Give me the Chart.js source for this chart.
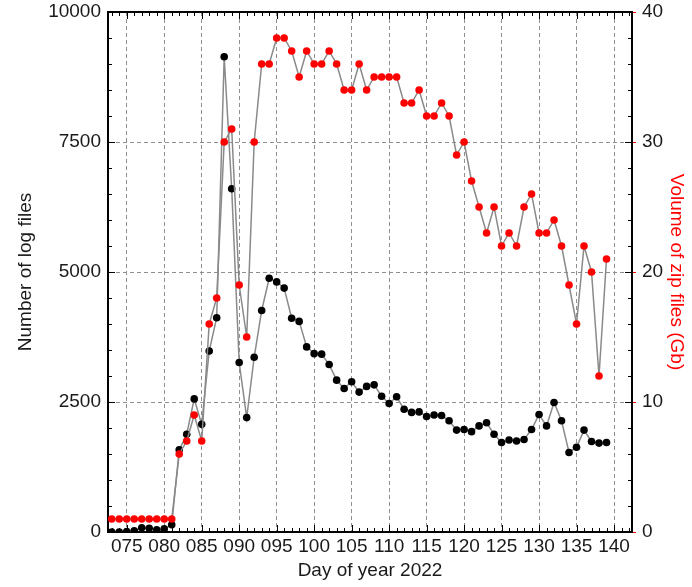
<!DOCTYPE html>
<html>
<head>
<meta charset="utf-8">
<script src="https://cdn.jsdelivr.net/npm/chart.js@4.4.1/dist/chart.umd.min.js"></script>
<style>
  html, body { margin: 0; padding: 0; background: #fff; }
</style>
</head>
<body>
<canvas id="chart" width="692" height="587"></canvas>
<script>
// Day of year (2022) for each sample
const days = [
    73, 74, 75, 76, 77, 78, 79, 80, 81, 82, 83, 84, 85, 86, 87, 88, 89, 90,
    91, 92, 93, 94, 95, 96, 97, 98, 99, 100, 101, 102, 103, 104, 105, 106,
    107, 108, 109, 110, 111, 112, 113, 114, 115, 116, 117, 118, 119, 120,
    121, 122, 123, 124, 125, 126, 127, 128, 129, 130, 131, 132, 133, 134,
    135, 136, 137, 138, 139
];

// Number of log files (left axis)
const logFiles = [
    0, 0, 10, 25, 80, 70, 40, 60, 140, 1580, 1880, 2560, 2070, 3480, 4120, 9140, 6600, 3260,
    2200, 3360, 4260, 4880, 4810, 4690, 4110, 4050, 3560, 3430, 3420, 3220, 2920, 2760, 2890, 2690,
    2800, 2830, 2610, 2470, 2600, 2360, 2300, 2310, 2220, 2250, 2240, 2140, 1960, 1970,
    1930, 2040, 2100, 1880, 1720, 1770, 1750, 1780, 1970, 2260, 2040, 2490, 2140, 1530,
    1630, 1960, 1740, 1710, 1720
];

// Volume of zip files in Gb (right axis)
const zipVolume = [
    1, 1, 1, 1, 1, 1, 1, 1, 1, 6, 7, 9, 7, 16, 18, 30, 31, 19,
    15, 30, 36, 36, 38, 38, 37, 35, 37, 36, 36, 37, 36, 34, 34, 36,
    34, 35, 35, 35, 35, 33, 33, 34, 32, 32, 33, 32, 29, 30,
    27, 25, 23, 25, 22, 23, 22, 25, 26, 23, 23, 24, 22, 19,
    16, 22, 20, 12, 21
];

// Tick labels
const dayTicks = [75, 80, 85, 90, 95, 100, 105, 110, 115, 120, 125, 130, 135, 140];
const logTicks = [0, 2500, 5000, 7500, 10000];
const zipTicks = [0, 10, 20, 30, 40];

const FONT = { family: "'Liberation Sans', Arial, sans-serif", size: 19 };
const TEXT = '#1a1a1a';
const GRID = '#8f8f8f';

// small inward ticks on all four sides, like the gnuplot frame
const innerTicks = {
    id: 'innerTicks',
    afterDraw(chart) {
        const { ctx, chartArea: a, scales } = chart;
        ctx.save();
        ctx.strokeStyle = '#000';
        ctx.lineWidth = 1;
        ctx.beginPath();
        for (let d = 73; d <= 142; d++) {
            const px = Math.round(scales.x.getPixelForValue(d)) + 0.5;
            const len = d % 5 === 0 ? 7 : 4;
            ctx.moveTo(px, a.bottom); ctx.lineTo(px, a.bottom - len);
            ctx.moveTo(px, a.top); ctx.lineTo(px, a.top + len);
        }
        for (let v = 0; v <= 10000; v += 500) {
            const py = Math.round(scales.y.getPixelForValue(v)) + 0.5;
            const len = v % 2500 === 0 ? 7 : 4;
            ctx.moveTo(a.left, py); ctx.lineTo(a.left + len, py);
        }
        for (let v = 0; v <= 40; v += 2) {
            const py = Math.round(scales.y2.getPixelForValue(v)) + 0.5;
            const len = v % 10 === 0 ? 7 : 4;
            ctx.moveTo(a.right, py); ctx.lineTo(a.right - len, py);
        }
        ctx.stroke();
        ctx.restore();
    }
};

const toPoints = (vals) => days.map((d, i) => ({ x: d, y: vals[i] }));

// fixed box sizes so the plot area sits where it does in the original
const fixWidth = (w) => (s) => { s.width = w; s.paddingTop = 0; s.paddingBottom = 0; };
const fixHeight = (h) => (s) => { s.height = h; s.paddingLeft = 0; s.paddingRight = 0; };

new Chart(document.getElementById('chart'), {
    type: 'line',
    data: {
        datasets: [
            {
                label: 'Volume of zip files (Gb)',
                data: toPoints(zipVolume),
                yAxisID: 'y2',
                borderColor: '#8a8a8a',
                borderWidth: 1.5,
                pointBackgroundColor: '#ff0000',
                pointBorderWidth: 0,
                pointRadius: 3.8,
                tension: 0
            },
            {
                label: 'Number of log files',
                data: toPoints(logFiles),
                yAxisID: 'y',
                borderColor: '#8a8a8a',
                borderWidth: 1.5,
                pointBackgroundColor: '#000000',
                pointBorderWidth: 0,
                pointRadius: 3.8,
                tension: 0
            }
        ]
    },
    options: {
        responsive: false,
        animation: false,
        layout: { padding: { top: 12, left: 0, right: 0, bottom: 0 } },
        plugins: { legend: { display: false }, tooltip: { enabled: false } },
        scales: {
            x: {
                type: 'linear',
                position: 'bottom',
                min: 72.5,
                max: 142.4,
                afterBuildTicks: (s) => { s.ticks = dayTicks.map(v => ({ value: v })); },
                afterFit: fixHeight(55),
                ticks: {
                    font: FONT, color: TEXT, padding: 3, maxRotation: 0, autoSkip: false,
                    callback: (v) => String(v).padStart(3, '0')
                },
                grid: { color: GRID, drawTicks: false },
                border: { display: true, color: '#000', width: 2, dash: [4, 3] },
                title: {
                    display: true, text: 'Day of year 2022', font: FONT, color: TEXT,
                    padding: { top: 0, bottom: 5 }
                }
            },
            xTop: {
                type: 'linear',
                position: 'top',
                min: 72.5,
                max: 142.4,
                afterFit: fixHeight(0),
                ticks: { display: false },
                grid: { drawOnChartArea: false, drawTicks: false },
                border: { display: true, color: '#000', width: 2 }
            },
            y: {
                position: 'left',
                min: 0,
                max: 10000,
                afterBuildTicks: (s) => { s.ticks = logTicks.map(v => ({ value: v })); },
                afterFit: fixWidth(108),
                ticks: { font: FONT, color: TEXT, padding: 7, callback: (v) => String(v) },
                grid: { color: GRID, drawTicks: false },
                border: { display: true, color: '#000', width: 2, dash: [4, 3] },
                title: {
                    display: true, text: 'Number of log files', font: FONT, color: TEXT,
                    padding: { top: 14, bottom: 0 }
                }
            },
            y2: {
                position: 'right',
                min: 0,
                max: 40,
                afterBuildTicks: (s) => { s.ticks = zipTicks.map(v => ({ value: v })); },
                afterFit: fixWidth(60),
                ticks: { font: FONT, color: TEXT, padding: 6, callback: (v) => String(v) },
                grid: { drawOnChartArea: false, tickLength: 4, tickColor: '#ff0000' },
                border: { display: true, color: '#000', width: 2 },
                title: {
                    display: true, text: 'Volume of zip files (Gb)', font: FONT, color: '#ff0000',
                    padding: { top: 4, bottom: 0 }
                }
            }
        }
    },
    plugins: [innerTicks]
});
</script>
</body>
</html>
